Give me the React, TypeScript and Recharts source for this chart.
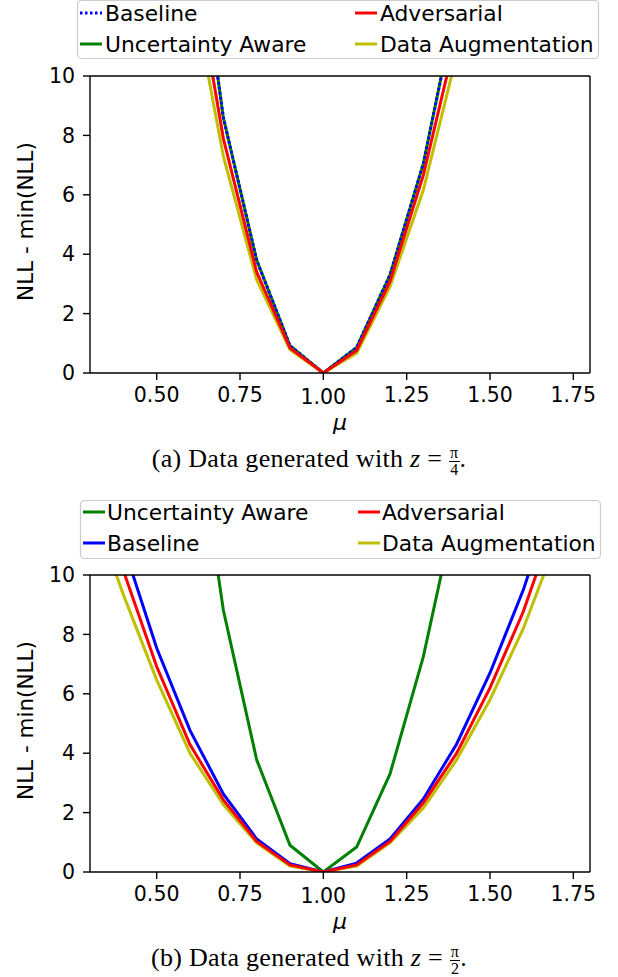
import React from 'react';
import { LineChart, Line, XAxis, YAxis, ReferenceLine } from 'recharts';

// ---------- Panel (a): z = pi/4 ----------
const MU_A = [0.6, 0.7, 0.8, 0.9, 1.0, 1.1, 1.2, 1.3, 1.4];
const BASELINE_A = [16.8, 8.6, 3.8, 0.92, 0, 0.86, 3.3, 7.05, 12.5];
const UNCERTAINTY_A = [16.8, 8.6, 3.8, 0.92, 0, 0.86, 3.3, 7.05, 12.5];
const ADVERSARIAL_A = [14.5, 7.9, 3.4, 0.84, 0, 0.76, 3.08, 6.66, 11.4];
const AUGMENTATION_A = [13.3, 7.3, 3.14, 0.78, 0, 0.67, 2.91, 6.16, 10.7];

// ---------- Panel (b): z = pi/2 ----------
const MU_B = [0.3, 0.4, 0.5, 0.6, 0.7, 0.8, 0.9, 1.0, 1.1, 1.2, 1.3, 1.4, 1.5, 1.6, 1.7];
const UNCERTAINTY_B = [null, null, null, 16.5, 8.82, 3.78, 0.9, 0, 0.84, 3.3, 7.25, 12.4, null, null, null];
const BASELINE_B = [null, 11.0, 7.54, 4.77, 2.63, 1.11, 0.28, 0, 0.3, 1.11, 2.46, 4.31, 6.7, 9.5, 12.9];
const ADVERSARIAL_B = [null, 10.15, 6.92, 4.29, 2.43, 1.03, 0.24, 0, 0.24, 1.03, 2.32, 4.0, 6.2, 8.77, 12.0];
const AUGMENTATION_B = [12.5, 9.34, 6.47, 4.0, 2.27, 0.98, 0.2, 0, 0.2, 0.98, 2.15, 3.78, 5.8, 8.2, 11.15];

const X_TICKS = [0.5, 0.75, 1.0, 1.25, 1.5, 1.75];
const Y_TICKS = [0, 2, 4, 6, 8, 10];
const X_DOMAIN = [0.3, 1.8];
const Y_DOMAIN = [0, 10];

const LABELS = {
  baseline: 'Baseline',
  ua: 'Uncertainty Aware',
  adv: 'Adversarial',
  aug: 'Data Augmentation',
};
const COLORS = { baseline: '#0000ff', ua: '#008000', adv: '#ff0000', aug: '#bfbf00' };

const FONT = 'DejaVu Sans';

function buildRows(mu, series) {
  return mu.map((m, i) => {
    const row = { mu: m };
    Object.keys(series).forEach((k) => {
      row[k] = series[k][i];
    });
    return row;
  });
}

const DATA_A = buildRows(MU_A, {
  baseline: BASELINE_A,
  ua: UNCERTAINTY_A,
  adv: ADVERSARIAL_A,
  aug: AUGMENTATION_A,
});
const DATA_B = buildRows(MU_B, {
  baseline: BASELINE_B,
  ua: UNCERTAINTY_B,
  adv: ADVERSARIAL_B,
  aug: AUGMENTATION_B,
});

const XTick = (props) => {
  const { x, y, payload } = props;
  const v = payload.value;
  const shift = Math.abs(v - 1) < 1e-9 ? 2.5 : 0;
  return (
    <text x={x} y={y + shift} dy="0.71em" textAnchor="middle" fontSize={20.5} fontFamily={FONT} fill="#000">
      {v.toFixed(2)}
    </text>
  );
};

const LegendBox = ({ box, items }) => (
  <svg width={618} height={62} style={{ position: 'absolute', left: 0, top: 0 }}>
    <rect x={box.x} y={box.y} width={box.w} height={box.h} rx={4} ry={4} fill="#fff" stroke="#cccccc" strokeWidth={1.2} />
    {items.map((it) => (
      <g key={it.key}>
        <line
          x1={it.hx1}
          x2={it.hx2}
          y1={it.y}
          y2={it.y}
          stroke={COLORS[it.key]}
          strokeWidth={3}
          strokeDasharray={it.dotted ? '2.5 2.5' : undefined}
        />
        <text x={it.tx} y={it.y} dy="0.36em" fontSize={21.8} fontFamily={FONT} fill="#000">
          {LABELS[it.key]}
        </text>
      </g>
    ))}
  </svg>
);

const Caption = ({ letter, denom, top }) => (
  <div
    style={{
      position: 'absolute',
      left: 0,
      top,
      width: 618,
      textAlign: 'center',
      fontFamily: 'Liberation Serif',
      fontSize: 26,
      letterSpacing: 0.3,
      lineHeight: '34px',
      color: '#000',
    }}
  >
    ({letter}) Data generated with <i>z</i> ={' '}
    <span
      style={{
        display: 'inline-flex',
        flexDirection: 'column',
        alignItems: 'center',
        verticalAlign: 'middle',
        fontSize: 16,
        lineHeight: '16px',
      }}
    >
      <span style={{ borderBottom: '1px solid #000', padding: '0 1px' }}>π</span>
      <span>{denom}</span>
    </span>
    .
  </div>
);

const YLabel = (props) => {
  const vb = props.viewBox || { x: 30, y: 76, width: 60, height: 297 };
  const cx = vb.x + 3;
  const cy = vb.y + vb.height / 2 - 3;
  return (
    <text
      x={cx}
      y={cy}
      transform={`rotate(-90 ${cx} ${cy})`}
      textAnchor="middle"
      fontSize={21.5}
      fontFamily={FONT}
      fill="#000"
    >
      NLL - min(NLL)
    </text>
  );
};

const XLabel = (props) => {
  const vb = props.viewBox || { x: 90, y: 373, width: 500, height: 70 };
  return (
    <text
      x={vb.x + vb.width / 2}
      y={vb.y + 57}
      textAnchor="middle"
      fontSize={22}
      fontStyle="italic"
      fontFamily={FONT}
      fill="#000"
    >
      μ
    </text>
  );
};

const axisStroke = { stroke: '#000', strokeWidth: 1.4 };

const Panel = ({ data, order, dottedBaseline, legend, captionLetter, denom, top }) => (
  <div style={{ position: 'absolute', left: 0, top, width: 618, height: 480 }}>
    <LineChart width={618} height={443} data={data} margin={{ top: 76, right: 28, left: 30, bottom: 0 }}>
      <XAxis
        dataKey="mu"
        type="number"
        domain={X_DOMAIN}
        ticks={X_TICKS}
        allowDataOverflow
        height={70}
        tickSize={7}
        tickMargin={7}
        axisLine={axisStroke}
        tickLine={axisStroke}
        tick={<XTick />}
        label={<XLabel />}
      />
      <YAxis
        type="number"
        domain={Y_DOMAIN}
        ticks={Y_TICKS}
        allowDataOverflow
        width={60}
        tickSize={7}
        tickMargin={8}
        axisLine={axisStroke}
        tickLine={axisStroke}
        tick={{ fontSize: 20.5, fill: '#000', fontFamily: FONT }}
        label={<YLabel />}
      />
      {order.map((k) => (
        <Line
          key={k}
          dataKey={k}
          type="linear"
          stroke={COLORS[k]}
          strokeWidth={3}
          strokeDasharray={k === 'baseline' && dottedBaseline ? '2.5 2.5' : undefined}
          dot={false}
          activeDot={false}
          isAnimationActive={false}
          connectNulls={false}
        />
      ))}
      <ReferenceLine y={Y_DOMAIN[1]} stroke="#000" strokeWidth={1.4} ifOverflow="visible" />
      <ReferenceLine x={X_DOMAIN[1]} stroke="#000" strokeWidth={1.4} ifOverflow="visible" />
    </LineChart>
    <LegendBox box={legend.box} items={legend.items} />
    <Caption letter={captionLetter} denom={denom} top={442} />
  </div>
);

const LEGEND_A = {
  box: { x: 77.5, y: 0.5, w: 521, h: 58 },
  items: [
    { key: 'baseline', hx1: 80, hx2: 102, tx: 105, y: 13, dotted: true },
    { key: 'ua', hx1: 80, hx2: 102, tx: 105, y: 44 },
    { key: 'adv', hx1: 355, hx2: 377, tx: 380, y: 13 },
    { key: 'aug', hx1: 355, hx2: 377, tx: 380, y: 44 },
  ],
};

const LEGEND_B = {
  box: { x: 80.5, y: 1.5, w: 520, h: 58 },
  items: [
    { key: 'ua', hx1: 83, hx2: 105, tx: 107, y: 13 },
    { key: 'baseline', hx1: 83, hx2: 105, tx: 107, y: 44 },
    { key: 'adv', hx1: 358, hx2: 380, tx: 382, y: 13 },
    { key: 'aug', hx1: 358, hx2: 380, tx: 382, y: 44 },
  ],
};

export default function App() {
  return (
    <div style={{ position: 'absolute', left: 0, top: 0, width: 618, height: 977, background: '#fff' }}>
      <Panel
        data={DATA_A}
        order={['aug', 'ua', 'baseline', 'adv']}
        dottedBaseline
        legend={LEGEND_A}
        captionLetter="a"
        denom="4"
        top={0}
      />
      <Panel
        data={DATA_B}
        order={['aug', 'ua', 'baseline', 'adv']}
        dottedBaseline={false}
        legend={LEGEND_B}
        captionLetter="b"
        denom="2"
        top={499}
      />
    </div>
  );
}
